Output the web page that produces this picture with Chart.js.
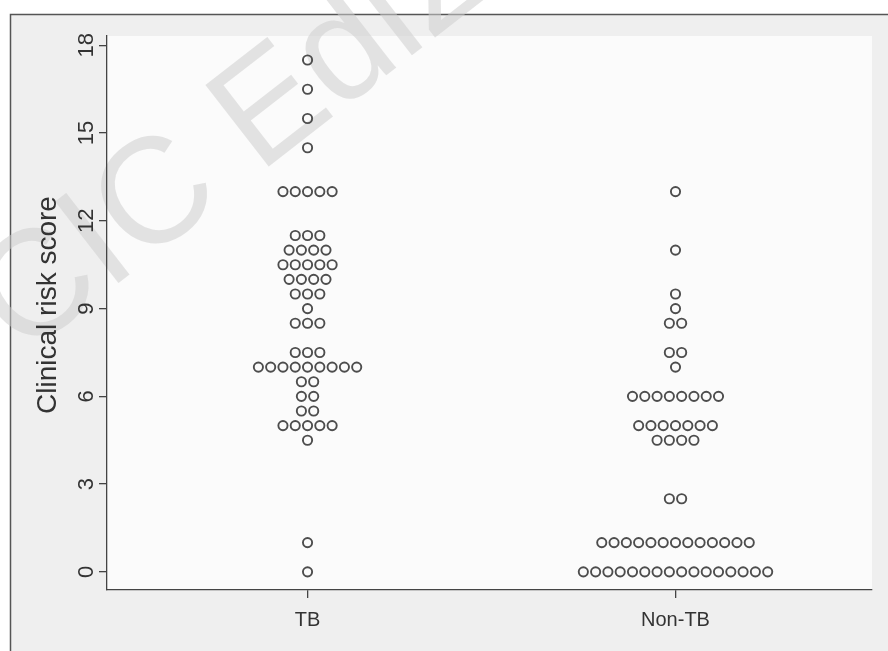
<!DOCTYPE html>
<html>
<head>
<meta charset="utf-8">
<script src="https://cdn.jsdelivr.net/npm/chart.js@4"></script>
<style>
  html, body { margin: 0; padding: 0; background: #fff; }
  #chart { display: block; }
</style>
</head>
<body>
<canvas id="chart" width="888" height="651"></canvas>
<script>
// groups on the x axis
const categories = ["TB", "Non-TB"];

// dot plot rows: score level and how many patients sit on it
const tbScores = [17.5, 16.5, 15.5, 14.5, 13, 11.5, 11, 10.5, 10, 9.5, 9, 8.5, 7.5, 7, 6.5, 6, 5.5, 5, 4.5, 1, 0];
const tbCounts = [1, 1, 1, 1, 5, 3, 4, 5, 4, 3, 1, 3, 3, 9, 2, 2, 2, 5, 1, 1, 1];

const nonTbScores = [13, 11, 9.5, 9, 8.5, 7.5, 7, 6, 5, 4.5, 2.5, 1, 0];
const nonTbCounts = [1, 1, 1, 1, 2, 2, 1, 8, 7, 4, 2, 13, 16];

const yTicks = [0, 3, 6, 9, 12, 15, 18];

const FONT = "'Liberation Sans', Arial, sans-serif";
const INK = "#333";

// spread the dots of one row side by side around the group centre
const DOT_STEP = 0.0334;
function buildDots(groupIdx, scores, counts) {
  const pts = [];
  scores.forEach((s, r) => {
    const n = counts[r];
    for (let i = 0; i < n; i++) {
      pts.push({ x: groupIdx + 1 + (i - (n - 1) / 2) * DOT_STEP, y: s });
    }
  });
  return pts;
}

const dotStyle = {
  pointStyle: "circle",
  pointRadius: 4.6,
  pointHoverRadius: 4.6,
  pointBorderWidth: 1.9,
  pointBorderColor: "#4d4d4d",
  pointBackgroundColor: "rgba(0,0,0,0)",
  showLine: false,
};

// background, frame and watermark
const backdrop = {
  id: "backdrop",
  beforeDraw(chart) {
    const { ctx, chartArea: a } = chart;
    ctx.save();
    ctx.fillStyle = "#ffffff";
    ctx.fillRect(0, 0, chart.width, chart.height);
    ctx.fillStyle = "#efefef";
    ctx.fillRect(10, 14, chart.width - 10, chart.height - 14);
    ctx.fillStyle = "#fbfbfb";
    ctx.fillRect(a.left, a.top, a.right - a.left, a.bottom - a.top);
    ctx.strokeStyle = "#555";
    ctx.lineWidth = 1.5;
    ctx.beginPath();
    ctx.moveTo(10.5, chart.height);
    ctx.lineTo(10.5, 14.5);
    ctx.lineTo(chart.width, 14.5);
    ctx.stroke();

    ctx.translate(22, 358);
    ctx.rotate(-0.66);
    ctx.font = "150px " + FONT;
    ctx.fillStyle = "rgba(205,205,205,0.55)";
    ctx.textBaseline = "alphabetic";
    ctx.fillText("CIC Edizioni", 0, 0);
    ctx.restore();
  },
  afterDraw(chart) {
    const { ctx } = chart;
    const y = chart.scales.y;
    ctx.save();
    ctx.fillStyle = INK;
    ctx.textAlign = "center";
    ctx.textBaseline = "middle";
    ctx.font = "22px " + FONT;
    y.ticks.forEach((t) => {
      const py = y.getPixelForValue(t.value);
      ctx.save();
      ctx.translate(87, py);
      ctx.rotate(-Math.PI / 2);
      ctx.fillText(String(t.value), 0, 0);
      ctx.restore();
    });
    ctx.font = "28px " + FONT;
    ctx.translate(48, 305);
    ctx.rotate(-Math.PI / 2);
    ctx.fillText("Clinical risk score", 0, 0);
    ctx.restore();
  },
};

new Chart(document.getElementById("chart"), {
  type: "scatter",
  data: {
    datasets: [
      { label: categories[0], data: buildDots(0, tbScores, tbCounts), ...dotStyle },
      { label: categories[1], data: buildDots(1, nonTbScores, nonTbCounts), ...dotStyle },
    ],
  },
  options: {
    responsive: false,
    animation: false,
    events: [],
    layout: { padding: { top: 36, right: 16, bottom: 0, left: 0 } },
    plugins: {
      legend: { display: false },
      tooltip: { enabled: false },
    },
    scales: {
      x: {
        type: "linear",
        min: 0.455,
        max: 2.534,
        afterBuildTicks: (s) => { s.ticks = categories.map((c, i) => ({ value: i + 1 })); },
        afterFit: (s) => { s.height = 61; },
        ticks: {
          callback: (v) => categories[v - 1] || "",
          color: INK,
          font: { family: FONT, size: 20 },
          padding: 10,
          maxRotation: 0,
          autoSkip: false,
        },
        grid: { drawOnChartArea: false, drawTicks: true, tickLength: 8, color: "#444", lineWidth: 1.3 },
        border: { display: true, color: "#444", width: 1.3 },
      },
      y: {
        type: "linear",
        min: -0.62,
        max: 18.32,
        afterBuildTicks: (s) => { s.ticks = yTicks.map((v) => ({ value: v })); },
        afterFit: (s) => { s.width = 107; },
        ticks: { display: false },
        grid: { drawOnChartArea: false, drawTicks: true, tickLength: 8, color: "#444", lineWidth: 1.3 },
        border: { display: true, color: "#444", width: 1.3 },
      },
    },
  },
  plugins: [backdrop],
});
</script>
</body>
</html>
